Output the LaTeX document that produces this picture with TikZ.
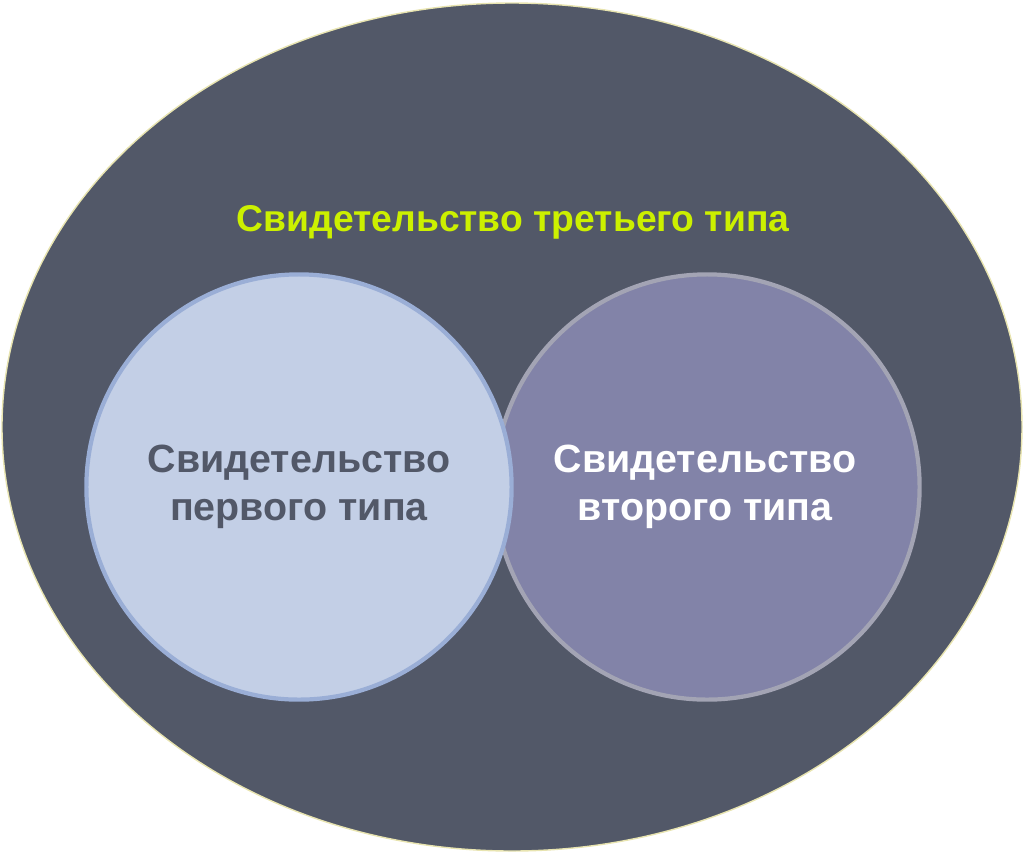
\documentclass[tikz,border=0pt]{standalone}
\usepackage{fontspec}
\setmainfont{Liberation Sans}
\definecolor{outerfill}{HTML}{525868}
\definecolor{outerline}{HTML}{E8E4B0}
\definecolor{leftfill}{HTML}{C3CFE6}
\definecolor{leftline}{HTML}{9AAED6}
\definecolor{rightfill}{HTML}{8283A8}
\definecolor{rightline}{HTML}{A3A4B4}
\definecolor{titlecol}{HTML}{CCF000}
\begin{document}
\begin{tikzpicture}[x=0.01cm,y=-0.01cm,
  lbl/.style={font=\bfseries\fontsize{11.2pt}{13.5pt}\selectfont,align=center}]
\useasboundingbox (0,0) rectangle (1024,854);
\fill[outerfill,draw=outerline,line width=0.4pt] (512,427) ellipse [x radius=510,y radius=424];
\node[circle,minimum size=425\pgflinewidth*0+4.25cm,fill=rightfill,draw=rightline,line width=1.2pt] (c2) at (707,487) {};
\node[circle,minimum size=4.25cm,fill=leftfill,draw=leftline,line width=1.2pt] (c1) at (299,487) {};
\node[font=\bfseries\fontsize{10.6pt}{13pt}\selectfont,text=titlecol] (t3) at (513,222) {Свидетельство третьего типа};
\node[lbl,text=outerfill] (t1) at (299,487) {Свидетельство\\первого типа};
\node[lbl,text=white] (t2) at (705,487) {Свидетельство\\второго типа};
\end{tikzpicture}
\end{document}
